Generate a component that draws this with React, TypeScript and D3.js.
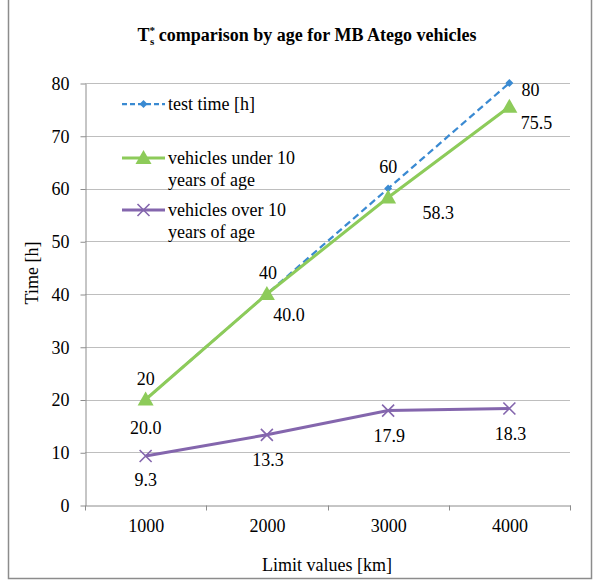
import React, { useEffect, useRef } from "react";
import * as d3 from "d3";

const categories = ["1000", "2000", "3000", "4000"];
const testTime = [20, 40, 60, 80];
const under10 = [20.0, 40.0, 58.3, 75.5];
const over10 = [9.3, 13.3, 17.9, 18.3];
const yTicks = [0, 10, 20, 30, 40, 50, 60, 70, 80];

// label nudges (dx, dy from the point to the label centre)
const testLabelOffset = [[0, -21], [1, -21], [0, -22], [21, 7]];
const underLabelOffset = [[0, 28], [22, 21], [50, 15], [27, 16]];
const overLabelOffset = [[0, 24], [1, 25], [1, 25], [1, 25]];

const FONT = "Liberation Serif";
const BLUE = "#3a8ad2";
const GREEN = "#8dcb5a";
const PURPLE = "#8466ad";

export default function App() {
  const svgRef = useRef<SVGSVGElement>(null);

  useEffect(() => {
    const svg = d3.select(svgRef.current);
    svg.selectAll("*").remove();

    const plot = { left: 85, right: 570, top: 83, bottom: 505 };

    // outer chart border
    svg
      .append("rect")
      .attr("x", 8.5)
      .attr("y", -2)
      .attr("width", 583)
      .attr("height", 580.5)
      .attr("fill", "white")
      .attr("stroke", "#8c8c8c")
      .attr("stroke-width", 1.5);

    const x = d3.scaleBand().domain(categories).range([plot.left, plot.right]);
    const y = d3.scaleLinear().domain([0, 80]).range([plot.bottom, plot.top]);
    const cx = (i: number) => (x(categories[i]) as number) + x.bandwidth() / 2;

    // gridlines
    svg
      .append("g")
      .selectAll("line")
      .data(yTicks.filter((d) => d > 0))
      .enter()
      .append("line")
      .attr("x1", plot.left)
      .attr("x2", plot.right)
      .attr("y1", (d) => Math.round(y(d)) + 0.5)
      .attr("y2", (d) => Math.round(y(d)) + 0.5)
      .attr("stroke", "#bebebe")
      .attr("stroke-width", 1.2);

    // y axis
    const yAxis = svg
      .append("g")
      .attr("transform", `translate(${plot.left + 0.5}, 0.5)`)
      .call(d3.axisLeft(y).tickValues(yTicks).tickSizeInner(5).tickSizeOuter(0).tickPadding(11));
    yAxis.attr("font-family", FONT).attr("font-size", 18);
    yAxis.select(".domain").attr("stroke", "#8c8c8c");
    yAxis.selectAll(".tick line").attr("stroke", "#8c8c8c");
    yAxis.selectAll("text").attr("fill", "#000");

    // x axis
    const xAxis = svg
      .append("g")
      .attr("transform", `translate(0.5, ${plot.bottom + 0.5})`)
      .call(d3.axisBottom(x).tickSize(0).tickPadding(14));
    xAxis.attr("font-family", FONT).attr("font-size", 18);
    xAxis.select(".domain").attr("stroke", "#8c8c8c");
    xAxis.selectAll("text").attr("fill", "#000");
    // category separators
    xAxis
      .selectAll("line.sep")
      .data(d3.range(categories.length + 1))
      .enter()
      .append("line")
      .attr("class", "sep")
      .attr("x1", (i) => Math.round(plot.left + i * x.bandwidth()))
      .attr("x2", (i) => Math.round(plot.left + i * x.bandwidth()))
      .attr("y1", 0)
      .attr("y2", 5)
      .attr("stroke", "#8c8c8c");

    // title
    svg
      .append("text")
      .attr("x", 307)
      .attr("y", 41)
      .attr("text-anchor", "middle")
      .attr("font-family", FONT)
      .attr("font-size", 18)
      .attr("font-weight", "bold")
      .call((t) => {
        t.append("tspan").text("T");
        t.append("tspan").attr("dy", -7).attr("font-size", 11).text("*");
        t.append("tspan").attr("dy", 11).attr("dx", -5).attr("font-size", 11).text("s");
        t.append("tspan").attr("dy", -4).text(" comparison by age for MB Atego vehicles");
      });

    // axis titles
    svg
      .append("text")
      .attr("transform", `translate(38, 273) rotate(-90)`)
      .attr("text-anchor", "middle")
      .attr("font-family", FONT)
      .attr("font-size", 18)
      .text("Time [h]");

    svg
      .append("text")
      .attr("x", 327)
      .attr("y", 571)
      .attr("text-anchor", "middle")
      .attr("font-family", FONT)
      .attr("font-size", 18)
      .text("Limit values [km]");

    const line = d3
      .line<number>()
      .x((_, i) => cx(i))
      .y((d) => y(d));

    const diamond = d3.symbol().type(d3.symbolDiamond2).size(40);
    const triangle = "M0,-8L8,6L-8,6Z";
    const cross = "M-6,-6L6,6M-6,6L6,-6";

    svg
      .append("path")
      .datum(testTime)
      .attr("d", line)
      .attr("fill", "none")
      .attr("stroke", BLUE)
      .attr("stroke-width", 2.25)
      .attr("stroke-dasharray", "7,4");

    svg
      .append("path")
      .datum(under10)
      .attr("d", line)
      .attr("fill", "none")
      .attr("stroke", GREEN)
      .attr("stroke-width", 3);

    svg
      .append("path")
      .datum(over10)
      .attr("d", line)
      .attr("fill", "none")
      .attr("stroke", PURPLE)
      .attr("stroke-width", 3);

    svg
      .append("g")
      .selectAll("path")
      .data(testTime)
      .enter()
      .append("path")
      .attr("transform", (d, i) => `translate(${cx(i)},${y(d)})`)
      .attr("d", diamond() as string)
      .attr("fill", BLUE);

    svg
      .append("g")
      .selectAll("path")
      .data(under10)
      .enter()
      .append("path")
      .attr("transform", (d, i) => `translate(${cx(i)},${y(d)})`)
      .attr("d", triangle)
      .attr("fill", GREEN);

    svg
      .append("g")
      .selectAll("path")
      .data(over10)
      .enter()
      .append("path")
      .attr("transform", (d, i) => `translate(${cx(i)},${y(d)})`)
      .attr("d", cross)
      .attr("fill", "none")
      .attr("stroke", PURPLE)
      .attr("stroke-width", 1.6);

    // data labels
    const labels = (values: number[], offsets: number[][], fmt: (v: number) => string) =>
      svg
        .append("g")
        .attr("font-family", FONT)
        .attr("font-size", 18)
        .selectAll("text")
        .data(values)
        .enter()
        .append("text")
        .attr("x", (d, i) => cx(i) + offsets[i][0])
        .attr("y", (d, i) => y(d) + offsets[i][1])
        .attr("dy", "0.35em")
        .attr("text-anchor", "middle")
        .text(fmt);

    labels(testTime, testLabelOffset, (v) => d3.format("d")(v));
    labels(under10, underLabelOffset, (v) => d3.format(".1f")(v));
    labels(over10, overLabelOffset, (v) => d3.format(".1f")(v));

    // legend
    const legend = svg.append("g").attr("font-family", FONT).attr("font-size", 18);
    const items = [
      { lines: ["test time [h]"], color: BLUE, y: 104, kind: "diamond" },
      { lines: ["vehicles under 10", "years of age"], color: GREEN, y: 158, kind: "triangle" },
      { lines: ["vehicles over 10", "years of age"], color: PURPLE, y: 210, kind: "cross" },
    ];
    items.forEach((it) => {
      const g = legend.append("g").attr("transform", `translate(0, ${it.y})`);
      g.append("line")
        .attr("x1", 122)
        .attr("x2", 165)
        .attr("stroke", it.color)
        .attr("stroke-width", it.kind === "diamond" ? 2.25 : 3)
        .attr("stroke-dasharray", it.kind === "diamond" ? "5,3" : null);
      const m = g.append("path").attr("transform", "translate(143.5, 0)");
      if (it.kind === "diamond") m.attr("d", diamond() as string).attr("fill", it.color);
      else if (it.kind === "triangle") m.attr("d", triangle).attr("fill", it.color);
      else m.attr("d", cross).attr("fill", "none").attr("stroke", it.color).attr("stroke-width", 1.6);
      it.lines.forEach((s, k) => {
        g.append("text")
          .attr("x", 168)
          .attr("y", k * 22)
          .attr("dy", "0.35em")
          .text(s);
      });
    });
  }, []);

  return (
    <svg
      ref={svgRef}
      width={598}
      height={584}
      fontFamily={FONT}
      style={{ position: "absolute", left: 0, top: 0, background: "white" }}
    />
  );
}
